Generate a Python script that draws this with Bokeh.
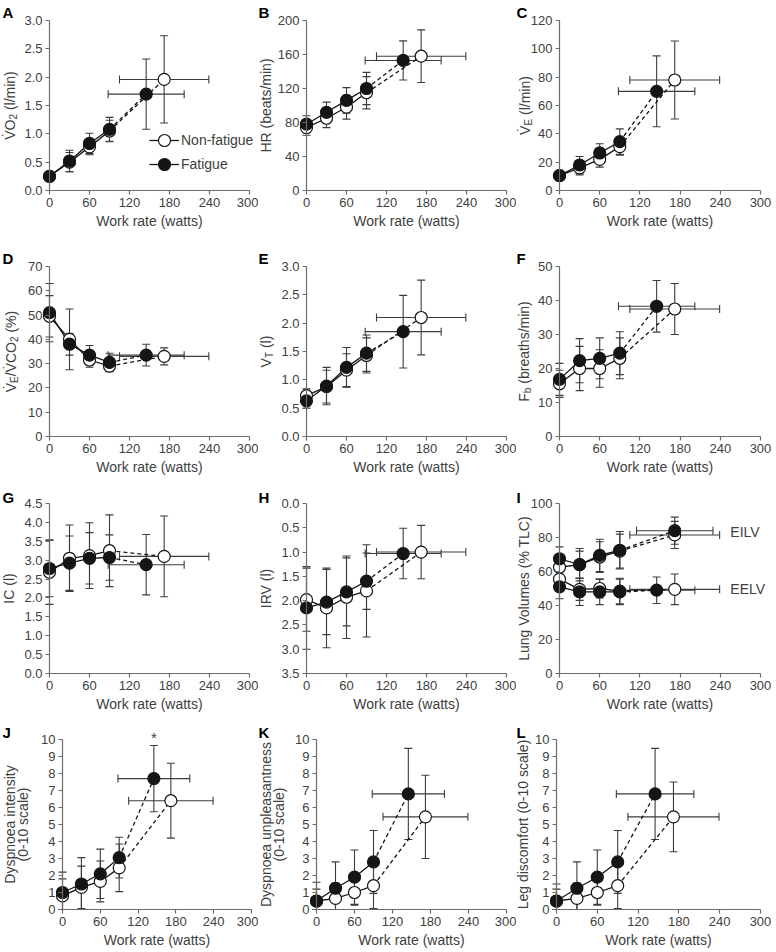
import math
from bokeh.plotting import figure
from bokeh.models import (ColumnDataSource, Range1d, FixedTicker, PrintfTickFormatter,
                          Whisker, TeeHead, Label, Legend, LegendItem)
from bokeh.layouts import column, row
from bokeh.embed import file_html
from bokeh.resources import INLINE

# ---------------- data ----------------
STAGES_W = [0, 30, 60, 90]          # rest + submaximal stages (watts)
PEAK_W_NF, PEAK_W_NF_SD = 172, 67   # peak work rate, non-fatigue
PEAK_W_F, PEAK_W_F_SD = 145, 57     # peak work rate, fatigue
EILV_F_PEAK_W = 172                 # EILV fatigue peak drawn at this work rate in source

VO2_NF = [0.25, 0.50, 0.77, 1.05, 1.96]
VO2_NF_SD = [0.03, 0.17, 0.14, 0.19, 0.77]
VO2_F = [0.25, 0.52, 0.83, 1.08, 1.70]
VO2_F_SD = [0.03, 0.19, 0.18, 0.21, 0.62]

HR_NF = [74, 85, 98, 115, 158]
HR_NF_SD = [9, 11, 14, 19, 31]
HR_F = [78, 92, 106, 120, 153]
HR_F_SD = [10, 12, 15, 19, 23]

VE_NF = [10.5, 16, 22, 31, 78]
VE_NF_SD = [2, 5, 5.5, 6, 27.5]
VE_F = [10.5, 18, 26.5, 34.5, 70]
VE_F_SD = [2, 6, 6.5, 9, 25]

VEVCO2_NF = [49.5, 40, 31.5, 29, 33]
VEVCO2_NF_SD = [8.5, 12.5, 3, 2, 3.5]
VEVCO2_F = [51, 38, 33.5, 30.5, 33.5]
VEVCO2_F_SD = [12, 4.5, 4, 3.8, 4.5]

VT_NF = [0.72, 0.88, 1.17, 1.43, 2.10]
VT_NF_SD = [0.12, 0.29, 0.29, 0.31, 0.66]
VT_F = [0.63, 0.89, 1.22, 1.47, 1.85]
VT_F_SD = [0.13, 0.33, 0.35, 0.32, 0.64]

FB_NF = [15.5, 20, 20, 23, 37.5]
FB_NF_SD = [4, 6.5, 5.5, 6, 7.5]
FB_F = [16.8, 22.3, 23, 24.5, 38.3]
FB_F_SD = [4.7, 6.5, 6, 6.3, 7.6]

IC_NF = [2.68, 3.05, 3.12, 3.25, 3.10]
IC_NF_SD = [0.85, 0.88, 0.87, 0.95, 1.07]
IC_F = [2.78, 2.92, 3.05, 3.07, 2.88]
IC_F_SD = [0.75, 0.72, 0.68, 0.60, 0.80]

IRV_NF = [1.98, 2.15, 1.93, 1.80, 1.00]
IRV_NF_SD = [0.65, 0.82, 0.85, 0.95, 0.55]
IRV_F = [2.15, 2.03, 1.82, 1.60, 1.03]
IRV_F_SD = [0.85, 0.67, 0.70, 0.58, 0.52]

EILV_NF = [62.5, 64, 68.5, 72, 81.5]
EILV_NF_SD = [7, 8, 9, 10, 8]
EILV_F = [67.5, 64, 69.5, 72.5, 84]
EILV_F_SD = [7, 9.5, 9.5, 11, 8]
EELV_NF = [55.5, 49.5, 50, 48.5, 49.5]
EELV_NF_SD = [6, 6.5, 5.5, 7.5, 9]
EELV_F = [51, 48, 48, 48, 49]
EELV_F_SD = [7, 8, 7.5, 7.5, 7.8]

DYSI_NF = [0.8, 1.3, 1.65, 2.45, 6.4]
DYSI_NF_SD = [1.0, 1.25, 1.2, 1.4, 2.2]
DYSI_F = [1.0, 1.5, 2.1, 3.05, 7.7]
DYSI_F_SD = [1.2, 1.55, 1.45, 1.2, 1.95]

DYSU_NF = [0.5, 0.65, 1.0, 1.4, 5.45]
DYSU_NF_SD = [0.7, 0.9, 0.75, 1.35, 2.45]
DYSU_F = [0.5, 1.25, 1.9, 2.8, 6.8]
DYSU_F_SD = [1.1, 1.55, 1.6, 1.85, 2.68]

LEG_NF = [0.5, 0.65, 1.0, 1.4, 5.45]
LEG_NF_SD = [0.7, 0.9, 0.75, 1.35, 2.05]
LEG_F = [0.5, 1.25, 1.9, 2.8, 6.8]
LEG_F_SD = [1.0, 1.55, 1.6, 1.85, 2.68]

X_TICKS = [0, 60, 120, 180, 240, 300]
X_MAX = 300
X_TITLE = "Work rate (watts)"

# ---------------- style ----------------
FONT = "Liberation Sans"
TXT = "#404040"
AX = "#6b6b6b"
ERR = "#3c3c3c"
DARK = "#151515"
TICK_FS = "13px"
TITLE_FS = 14
SUB_FS = 10
NBSP = "\u00a0"

ADV = {' ': 278, NBSP: 278, '(': 333, ')': 333, '/': 278, '%': 889, '-': 333, 'V': 667,
       'O': 778, 'E': 667, 'T': 611, 'F': 611, 'C': 722, 'l': 222, 'm': 833, 'i': 222,
       'n': 556, 'b': 556, 'r': 333, 'e': 556, 'a': 556, 't': 278, 'h': 556, 's': 500}


def text_w(s, size):
    return sum(ADV.get(ch, 556) for ch in s if ch != '\u0307') * size / 1000.0


panels = [
    dict(letter="A", lo=0, hi=3.0, step=0.5, fmt="%.1f",
         ylab=[[("V\u0307O", 0), ("2", 1), (" (l/min)", 0)]],
         series=[("nf", VO2_NF, VO2_NF_SD, PEAK_W_NF, PEAK_W_NF_SD),
                 ("f", VO2_F, VO2_F_SD, PEAK_W_F, PEAK_W_F_SD)], legend=True),
    dict(letter="B", lo=0, hi=200, step=40, fmt="%d",
         ylab=[[("HR (beats/min)", 0)]],
         series=[("nf", HR_NF, HR_NF_SD, PEAK_W_NF, PEAK_W_NF_SD),
                 ("f", HR_F, HR_F_SD, PEAK_W_F, PEAK_W_F_SD)]),
    dict(letter="C", lo=0, hi=120, step=20, fmt="%d",
         ylab=[[("V\u0307", 0), ("E", 1), (" (l/min)", 0)]],
         series=[("nf", VE_NF, VE_NF_SD, PEAK_W_NF, PEAK_W_NF_SD),
                 ("f", VE_F, VE_F_SD, PEAK_W_F, PEAK_W_F_SD)]),
    dict(letter="D", lo=0, hi=70, step=10, fmt="%d",
         ylab=[[("V\u0307", 0), ("E", 1), ("/V\u0307CO", 0), ("2", 1), (" (%)", 0)]],
         series=[("nf", VEVCO2_NF, VEVCO2_NF_SD, PEAK_W_NF, PEAK_W_NF_SD),
                 ("f", VEVCO2_F, VEVCO2_F_SD, PEAK_W_F, PEAK_W_F_SD)]),
    dict(letter="E", lo=0, hi=3.0, step=0.5, fmt="%.1f",
         ylab=[[("V", 0), ("T", 1), (" (l)", 0)]],
         series=[("nf", VT_NF, VT_NF_SD, PEAK_W_NF, PEAK_W_NF_SD),
                 ("f", VT_F, VT_F_SD, PEAK_W_F, PEAK_W_F_SD)]),
    dict(letter="F", lo=0, hi=50, step=10, fmt="%d",
         ylab=[[("F", 0), ("b", 1), (" (breaths/min)", 0)]],
         series=[("nf", FB_NF, FB_NF_SD, PEAK_W_NF, PEAK_W_NF_SD),
                 ("f", FB_F, FB_F_SD, PEAK_W_F, PEAK_W_F_SD)]),
    dict(letter="G", lo=0, hi=4.5, step=0.5, fmt="%.1f",
         ylab=[[("IC (l)", 0)]],
         series=[("nf", IC_NF, IC_NF_SD, PEAK_W_NF, PEAK_W_NF_SD),
                 ("f", IC_F, IC_F_SD, PEAK_W_F, PEAK_W_F_SD)]),
    dict(letter="H", lo=0, hi=3.5, step=0.5, fmt="%.1f", invert=True,
         ylab=[[("IRV (l)", 0)]],
         series=[("nf", IRV_NF, IRV_NF_SD, PEAK_W_NF, PEAK_W_NF_SD),
                 ("f", IRV_F, IRV_F_SD, PEAK_W_F, PEAK_W_F_SD)]),
    dict(letter="I", lo=0, hi=100, step=20, fmt="%d",
         ylab=[[("Lung Volumes (% TLC)", 0)]],
         series=[("nf", EILV_NF, EILV_NF_SD, PEAK_W_NF, PEAK_W_NF_SD),
                 ("nf", EELV_NF, EELV_NF_SD, PEAK_W_NF, PEAK_W_NF_SD),
                 ("f", EILV_F, EILV_F_SD, EILV_F_PEAK_W, PEAK_W_F_SD),
                 ("f", EELV_F, EELV_F_SD, PEAK_W_F, PEAK_W_F_SD)],
         notes=[("EILV", 255, 83), ("EELV", 255, 50)]),
    dict(letter="J", lo=0, hi=10, step=1, fmt="%d",
         ylab=[[("Dyspnoea intensity", 0)], [("(0-10 scale)", 0)]],
         series=[("nf", DYSI_NF, DYSI_NF_SD, PEAK_W_NF, PEAK_W_NF_SD),
                 ("f", DYSI_F, DYSI_F_SD, PEAK_W_F, PEAK_W_F_SD)], star=True),
    dict(letter="K", lo=0, hi=10, step=1, fmt="%d",
         ylab=[[("Dyspnoea unpleasantness", 0)], [("(0-10 scale)", 0)]],
         series=[("nf", DYSU_NF, DYSU_NF_SD, PEAK_W_NF, PEAK_W_NF_SD),
                 ("f", DYSU_F, DYSU_F_SD, PEAK_W_F, PEAK_W_F_SD)]),
    dict(letter="L", lo=0, hi=10, step=1, fmt="%d",
         ylab=[[("Leg discomfort (0-10 scale)", 0)]],
         series=[("nf", LEG_NF, LEG_NF_SD, PEAK_W_NF, PEAK_W_NF_SD),
                 ("f", LEG_F, LEG_F_SD, PEAK_W_F, PEAK_W_F_SD)]),
]

# ---------------- geometry (pixels) ----------------
COL_W = [258, 258, 260]
LB = [[49, 48, 43]] * 3 + [[62, 58, 40]]      # space left of the data area
RB = [[9, 10, 16]] * 3 + [[7, 10, 16]]        # space right of the data area
ROW_H = [241, 237, 237, 235]
TB = [20, 25, 25, 24]                          # space above the data area
BB = [51, 42, 42, 41]                          # space below the data area
LETTER_DY = [8, 8, 6, 7]
LETTER_DX = [[-47, -48, -43]] * 3 + [[-60, -58, -40]]
YLAB_DX = [[[-40], [-41], [-35]],
           [[-39], [-41], [-36]],
           [[-41], [-41], [-36]],
           [[-53, -40], [-51, -38], [-34]]]


def whiskers(p, src, base, dim):
    w = Whisker(source=src, base=base, upper="hi", lower="lo", dimension=dim,
                line_color=ERR, line_width=1.1, level="underlay",
                upper_head=TeeHead(size=8, line_color=ERR, line_width=1.1),
                lower_head=TeeHead(size=8, line_color=ERR, line_width=1.1))
    p.add_layout(w)


def make_panel(spec, r, c):
    inv = spec.get("invert", False)
    lo, hi = spec["lo"], spec["hi"]
    W, H = COL_W[c], ROW_H[r]
    lb, rb, tb, bb = LB[r][c], RB[r][c], TB[r], BB[r]
    fw, fh = W - lb - rb, H - tb - bb
    xpp = X_MAX / fw
    ypp = (hi - lo) / fh
    xr = Range1d(-lb * xpp, X_MAX + rb * xpp)
    if inv:
        yr = Range1d(hi + bb * ypp, lo - tb * ypp)
    else:
        yr = Range1d(lo - bb * ypp, hi + tb * ypp)
    p = figure(width=W, height=H, x_range=xr, y_range=yr,
               output_backend="svg", toolbar_location=None,
               min_border=0, min_border_left=0, min_border_right=0,
               min_border_top=0, min_border_bottom=0)
    p.outline_line_color = None
    p.grid.visible = False
    p.background_fill_color = "white"
    p.border_fill_color = "white"

    nt = int(round((hi - lo) / spec["step"]))
    p.yaxis.ticker = FixedTicker(ticks=[lo + i * spec["step"] for i in range(nt + 1)])
    p.yaxis.formatter = PrintfTickFormatter(format=spec["fmt"])
    p.yaxis.bounds = (lo, hi)
    p.yaxis.fixed_location = 0
    p.xaxis.ticker = FixedTicker(ticks=X_TICKS)
    p.xaxis.bounds = (0, X_MAX)
    p.xaxis.fixed_location = hi if inv else lo
    p.xaxis.axis_label = X_TITLE
    for ax in (p.xaxis[0], p.yaxis[0]):
        ax.axis_line_color = AX
        ax.axis_line_width = 1.2
        ax.major_tick_line_color = AX
        ax.major_tick_line_width = 1.2
        ax.minor_tick_line_color = None
        ax.major_tick_out = 4
        ax.major_tick_in = 0
        ax.major_label_standoff = 3
        ax.major_label_text_font = FONT
        ax.major_label_text_font_size = TICK_FS
        ax.major_label_text_color = TXT
        ax.axis_label_text_font = FONT
        ax.axis_label_text_font_size = f"{TITLE_FS}px"
        ax.axis_label_text_font_style = "normal"
        ax.axis_label_text_color = TXT
        ax.axis_label_standoff = 3

    # series: error bars, then lines, then markers (fatigue on top)
    lines, marks = {}, {}
    order = [s for s in spec["series"] if s[0] == "nf"] + [s for s in spec["series"] if s[0] == "f"]
    ymin = min(lo, hi)
    for kind, ys, sds, px, pxsd in order:
        xs = STAGES_W + [px]
        src = ColumnDataSource(dict(x=xs, y=ys,
                                    lo=[max(v - s, ymin) for v, s in zip(ys, sds)],
                                    hi=[v + s for v, s in zip(ys, sds)]))
        whiskers(p, src, "x", "height")
        hsrc = ColumnDataSource(dict(y=[ys[-1]], lo=[px - pxsd], hi=[px + pxsd]))
        whiskers(p, hsrc, "y", "width")
    for kind, ys, sds, px, pxsd in order:
        xs = STAGES_W + [px]
        ln = p.line(xs[:4], ys[:4], line_color=DARK, line_width=1.3)
        p.line(xs[3:], ys[3:], line_color=DARK, line_width=1.3, line_dash="4 3")
        lines.setdefault(kind, ln)
    for kind, ys, sds, px, pxsd in order:
        xs = STAGES_W + [px]
        sc = p.scatter(xs, ys, marker="circle", size=12, line_color=DARK, line_width=1.2,
                       fill_color=("white" if kind == "nf" else DARK))
        marks.setdefault(kind, sc)

    # panel letter
    top = lo if inv else hi
    p.add_layout(Label(x=0, y=top, text=spec["letter"], x_offset=LETTER_DX[r][c],
                       y_offset=LETTER_DY[r], text_align="left", text_baseline="alphabetic",
                       text_font=FONT, text_font_size="15px", text_font_style="bold",
                       text_color="black"))

    # y axis title (built from pieces so subscripts stay real text)
    yc = (lo + hi) / 2.0
    for li, pieces in enumerate(spec["ylab"]):
        dx = YLAB_DX[r][c][li]
        if len(pieces) == 1:
            p.add_layout(Label(x=0, y=yc, text=pieces[0][0], angle=math.pi / 2,
                               x_offset=dx, text_align="center", text_baseline="middle",
                               text_font=FONT, text_font_size=f"{TITLE_FS}px", text_color=TXT))
            continue
        pieces = [(t.replace(" ", NBSP), sub) for t, sub in pieces]
        sizes = [SUB_FS if sub else TITLE_FS for _, sub in pieces]
        widths = [text_w(t, s) for (t, _), s in zip(pieces, sizes)]
        total = sum(widths)
        cum = -total / 2.0
        for (t, sub), s, w in zip(pieces, sizes, widths):
            p.add_layout(Label(x=0, y=yc, text=t, angle=math.pi / 2,
                               x_offset=dx + (3.5 if sub else 0), y_offset=cum,
                               text_align="left", text_baseline="middle",
                               text_font=FONT, text_font_size=f"{s}px", text_color=TXT))
            cum += w

    for t, nx, ny in spec.get("notes", []):
        p.add_layout(Label(x=nx, y=ny, text=t, text_align="left", text_baseline="middle",
                           text_font=FONT, text_font_size=f"{TITLE_FS}px", text_color=TXT))

    if spec.get("star"):
        p.add_layout(Label(x=PEAK_W_F, y=hi, text="*", text_align="center",
                           text_baseline="middle", y_offset=2, text_font=FONT,
                           text_font_size="15px", text_color=TXT))

    if spec.get("legend"):
        common = dict(border_line_color=None, background_fill_alpha=0,
                      label_text_font=FONT, label_text_font_size="14px", label_text_color=TXT,
                      glyph_width=30, glyph_height=30, padding=0, margin=0, label_standoff=2)
        p.add_layout(Legend(items=[LegendItem(label="Non-fatigue",
                                              renderers=[lines["nf"], marks["nf"]])],
                            location=(lb + 100, bb + 35), **common))
        p.add_layout(Legend(items=[LegendItem(label="Fatigue",
                                              renderers=[lines["f"], marks["f"]])],
                            location=(lb + 100, bb + 11), **common))
    return p


rows = []
for r in range(4):
    figs = [make_panel(panels[r * 3 + c], r, c) for c in range(3)]
    rows.append(row(*figs))
layout = column(*rows)

open("out.html", "w").write(file_html(layout, INLINE))
